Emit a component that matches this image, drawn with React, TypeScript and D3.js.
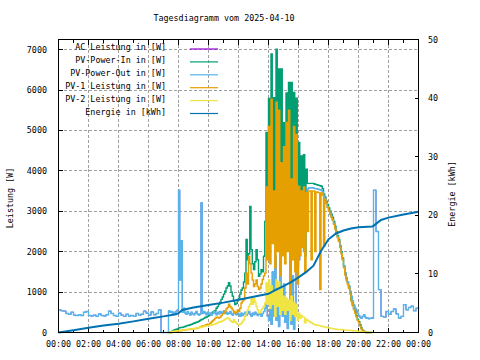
import React from "react";
import * as d3 from "d3";

const title = "Tagesdiagramm vom 2025-04-10";
const xTickLabels = ["00:00","02:00","04:00","06:00","08:00","10:00","12:00","14:00","16:00","18:00","20:00","22:00","00:00"];
const leftTicks = [0,1000,2000,3000,4000,5000,6000,7000];
const rightTicks = [0,10,20,30,40,50];
const legendNames = ["AC Leistung in [W]","PV-Power-In in [W]","PV-Power-Out in [W]","PV-1 Leistung in [W]","PV-2 Leistung in [W]","Energie in [kWh]"];
const colors = ["#9400d3","#009e73","#56b4e9","#e69f00","#f0e442","#0072b2"];

// night (00:00 .. 07:10, every 10 minutes) PV-Power-Out
const nightAMStart = "00:00";
const pvOutNightAM = [560,540,530,470,450,500,430,420,440,420,500,520,420,410,430,400,460,420,410,440,530,470,420,400,480,430,400,450,410,420,400,470,430,450,530,480,430,510,440,470,560,0,0,0];
// day grid (07:20 .. 20:55, every 5 minutes)
const dayStart = "07:20";
const pvIn = [
  0,0,20,40,60,70,80,90,
  110,120,125,130,140,150,165,175,180,190,200,215,
  230,240,255,260,280,300,320,330,350,370,385,400,
  420,440,470,500,520,540,600,640,700,750,820,880,
  950,1020,1100,1150,1230,1150,1000,900,780,690,720,800,
  850,950,1050,1100,1250,1470,2300,1800,1950,3120,2050,1700,
  1555,1750,2050,1800,1390,1450,1555,1500,1885,2750,4950,2600,
  5790,2400,6890,3000,5810,2200,7010,2800,6520,1900,6520,2600,
  5190,2300,5930,2700,6190,1200,6190,2400,5940,2100,5800,1600,
  4700,2400,4370,2600,4400,1900,4040,3690,3690,3690,3690,3690,
  3680,3670,3660,3650,3640,3630,3620,3560,3420,3350,3250,3170,
  3080,3000,2930,2850,2750,2630,2500,2400,2300,2150,2000,1845,
  1650,1470,1350,1250,1140,1000,810,700,600,520,420,330,
  270,190,110,60,30,10,0,0,0,0,0,0
];
const pv1 = [
  0,0,0,10,20,25,30,35,
  40,45,50,55,60,65,67,70,75,80,85,90,
  92,95,100,110,120,135,150,160,170,180,195,205,
  208,230,260,290,315,350,380,370,357,380,420,460,
  480,530,580,620,700,645,605,560,520,480,500,560,
  520,600,730,780,810,1100,1470,1200,1885,1700,1470,1300,
  1140,1200,1300,1140,1060,1100,1200,1310,1400,1470,3600,1800,
  5100,1700,5770,2200,3500,1600,5700,2000,5500,1400,4200,1900,
  4600,1700,5200,2000,5500,700,3800,1800,5100,1500,4900,1200,
  3620,1900,3500,2100,3600,1500,3460,2500,3500,3500,1800,3500,
  3500,2000,3480,3470,3460,1060,3450,3400,2130,3300,3200,3100,
  3000,2920,2850,2780,2680,2560,2450,2350,2250,2100,1950,1800,
  1600,1420,1300,1200,1090,950,770,660,560,480,390,300,
  240,165,90,45,20,5,0,0,0,0,0,0
];
const pv2 = [
  0,10,20,25,30,35,40,45,
  50,55,60,62,65,67,70,75,80,85,90,95,
  100,105,110,115,124,130,135,140,150,160,165,170,
  175,180,185,190,200,210,225,240,255,265,273,290,
  310,330,350,357,340,300,273,250,315,260,233,200,
  190,200,233,280,315,400,480,560,645,700,850,700,
  850,750,645,560,480,500,560,600,650,730,1225,700,
  1300,600,1150,700,1000,400,1300,650,1250,450,1100,550,
  900,450,850,550,800,300,900,450,750,400,700,300,
  480,350,420,380,380,240,330,300,280,260,240,220,
  200,190,185,180,170,165,160,150,140,135,130,120,
  110,105,100,95,90,85,80,78,75,72,70,68,
  65,62,60,58,55,52,50,45,42,40,38,35,
  30,25,20,15,10,5,0,0,0,0,0,0
];
const pvOutDay = [
  540,500,520,480,500,460,530,560,
  3520,1300,2270,500,600,480,450,520,470,430,500,460,
  440,480,520,450,430,460,3210,470,520,480,440,500,
  450,480,430,470,520,480,440,500,460,520,480,500,
  540,470,500,450,480,520,460,430,500,470,440,480,
  450,400,480,420,460,500,430,470,520,450,400,480,
  440,500,460,420,480,450,400,470,520,600,700,400,
  300,600,200,1500,400,1900,300,700,150,3100,900,400,
  1200,250,800,100,600,1000,200,1400,80,600,1500,2200,
  1800,2300,2600,2300,2000,3000,3400,3550,3580,3580,3580,3580,
  3570,3560,3560,3550,3540,3530,3520,3480,3380,3300,3200,3100,
  3020,2950,2880,2800,2700,2590,2470,2370,2270,2120,1970,1820,
  1650,1480,1360,1260,1150,1020,900,780,680,600,550,480,
  420,380,350,400,440,380,350,360,340,350,360,350
];
// evening (21:00 .. 24:00, every 10 minutes)
const nightPMStart = "21:00";
const pvOutNightPM = [3520,2500,1060,400,380,520,450,520,580,460,360,400,690,560,620,650,540,600,580];
const acLeistungDay = pvOutDay;

const energyTimes = ["00:00","01:00","02:00","03:00","04:00","05:00","06:00","07:00","07:50","08:00","08:15","09:00","10:00","11:00","12:00","13:00","14:00","14:30","15:00","15:30","16:00","16:30","17:00","17:30","18:00","18:30","19:00","19:30","20:00","20:55","21:00","21:30","22:00","23:00","24:00"];
const energyValues = [0,0.4,0.8,1.2,1.5,1.9,2.35,2.75,3.1,3.3,3.85,4.25,4.7,5.1,5.6,6.1,6.6,7.3,7.9,8.6,9.4,10.3,11.4,13.9,15.9,16.9,17.4,17.75,17.95,18.1,18.2,19.2,19.6,20.15,20.6];

const toMin = (s: string) => { const [h, m] = s.split(":").map(Number); return h * 60 + m; };
const grid = (start: string, step: number, vals: number[]) => vals.map((v, i) => [toMin(start) + i * step, v] as [number, number]);

const FONT = "'DejaVu Sans Mono', monospace";
const FS = 8.4;

export default function App() {
  const L = 58.5, R = 418.5, T = 39.5, B = 332.5;
  const x = d3.scaleLinear().domain([0, 1440]).range([L, R]);
  const y = d3.scaleLinear().domain([0, 7250]).range([B, T]);
  const y2 = d3.scaleLinear().domain([0, 50]).range([B, T]);

  const pvOutAll = [...grid(nightAMStart, 10, pvOutNightAM), ...grid(dayStart, 5, pvOutDay), ...grid(nightPMStart, 10, pvOutNightPM)];
  const acAll = [...grid(nightAMStart, 10, pvOutNightAM), ...grid(dayStart, 5, acLeistungDay), ...grid(nightPMStart, 10, pvOutNightPM)];
  const series: [number, number][][] = [
    acAll,
    grid(dayStart, 5, pvIn),
    pvOutAll,
    grid(dayStart, 5, pv1),
    grid(dayStart, 5, pv2),
  ];
  const widths = [0.8, 1.4, 1.4, 1.4, 1.4];
  const stepLine = d3.line<[number, number]>().x(d => x(d[0])).y(d => y(d[1])).curve(d3.curveStepAfter);
  const energyPts = energyTimes.map((t, i) => [toMin(t), energyValues[i]] as [number, number]);
  const eLine = d3.line<[number, number]>().x(d => x(d[0])).y(d => y2(d[1]));

  const xTicks = xTickLabels.map((_, i) => i * 120);
  const minorX = d3.range(0, 25).map(h => h * 60);

  return (
    <svg width={480} height={360} style={{ display: "block", position: "absolute", left: 0, top: 0, background: "#fff" }} fontFamily={FONT} fontSize={FS}>
      <rect x={0} y={0} width={480} height={360} fill="#fff" />
      <text x={224} y={21} textAnchor="middle">{title}</text>
      {/* grid */}
      <g stroke="#a0a0a0" strokeDasharray="3,2" shapeRendering="crispEdges">
        {xTicks.slice(1, -1).map((t, i) => <line key={"gx" + i} x1={x(t)} x2={x(t)} y1={T} y2={B} />)}
        {leftTicks.slice(1).map((t, i) => <line key={"gy" + i} x1={L} x2={R} y1={y(t)} y2={y(t)} />)}
      </g>
      {/* ticks */}
      <g stroke="#000" shapeRendering="crispEdges">
        {minorX.map((t, i) => {
          const len = (t % 120 === 0) ? 5 : 3;
          return <g key={"tx" + i}>
            <line x1={x(t)} x2={x(t)} y1={B} y2={B - len} />
            <line x1={x(t)} x2={x(t)} y1={T} y2={T + len} />
          </g>;
        })}
        {leftTicks.map((t, i) => <line key={"ty" + i} x1={L} x2={L + 4} y1={y(t)} y2={y(t)} />)}
        {rightTicks.map((t, i) => <line key={"ty2" + i} x1={R} x2={R - 4} y1={y2(t)} y2={y2(t)} />)}
      </g>
      {/* data */}
      <g fill="none" strokeLinejoin="miter">
        {series.map((s, i) => <path key={"s" + i} d={stepLine(s) || ""} stroke={colors[i]} strokeWidth={widths[i]} />)}
        <path d={eLine(energyPts) || ""} stroke={colors[5]} strokeWidth={2} />
      </g>
      {/* frame */}
      <rect x={L} y={T} width={R - L} height={B - T} fill="none" stroke="#000" shapeRendering="crispEdges" />
      {/* tick labels */}
      {leftTicks.map((t, i) => <text key={"ly" + i} x={47} y={y(t) + 3} textAnchor="end">{t}</text>)}
      {rightTicks.map((t, i) => <text key={"ry" + i} x={428} y={y2(t) + 3} textAnchor="start">{t}</text>)}
      {xTicks.map((t, i) => <text key={"lx" + i} x={x(t)} y={347} textAnchor="middle">{xTickLabels[i]}</text>)}
      <text transform="translate(13,198) rotate(-90)" textAnchor="middle">Leistung [W]</text>
      <text transform="translate(455,194) rotate(-90)" textAnchor="middle">Energie [kWh]</text>
      {/* legend */}
      {legendNames.map((n, i) => {
        const cy = 47.3 + i * 12.9;
        return <g key={"lg" + i}>
          <text x={166} y={cy + 3} textAnchor="end">{n}</text>
          <line x1={190} x2={218} y1={cy + 1.7} y2={cy + 1.7} stroke={colors[i]} strokeWidth={1.2} />
        </g>;
      })}
    </svg>
  );
}
